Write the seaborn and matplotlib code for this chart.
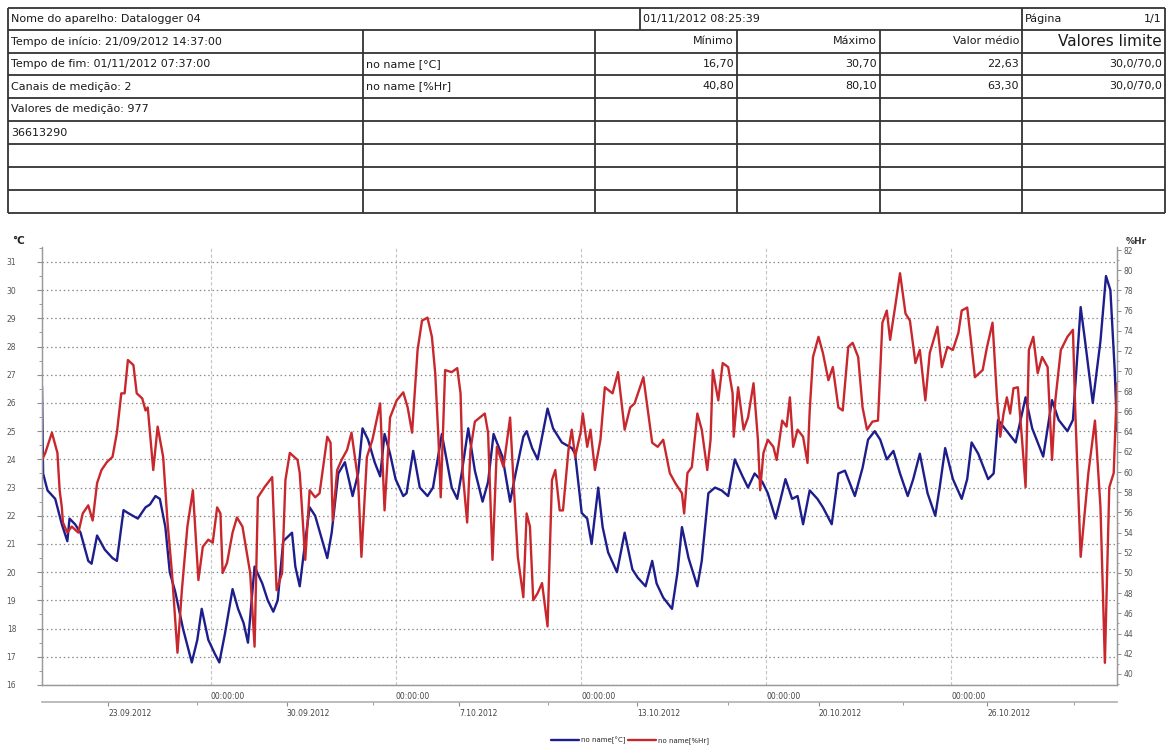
import pandas as pd
import numpy as np
import matplotlib.pyplot as plt
import seaborn as sns
from matplotlib.ticker import MultipleLocator, FixedLocator

# Datalogger series: hours after 21/09/2012 14:37 and the value read at that hour
temp_hours = [0, 1, 5, 12, 18, 23, 25, 30, 35, 42,
              45, 50, 57, 64, 68, 74, 78, 87, 94, 98,
              103, 107, 112, 116, 121, 128, 136, 141, 145, 151,
              157, 161, 166, 173, 178, 183, 187, 193, 200, 205,
              210, 214, 219, 227, 230, 234, 239, 243, 248, 259,
              263, 269, 275, 282, 287, 291, 296, 302, 307, 311,
              316, 321, 328, 331, 337, 343, 350, 355, 363, 372,
              377, 381, 387, 393, 400, 405, 410, 418, 425, 430,
              437, 440, 445, 450, 459, 464, 472, 481, 484, 490,
              495, 499, 505, 509, 514, 522, 529, 536, 541, 548,
              554, 558, 564, 572, 577, 581, 587, 595, 599, 605,
              611, 617, 623, 629, 636, 641, 647, 654, 659, 666,
              670, 675, 681, 686, 691, 697, 704, 709, 717, 723,
              729, 738, 745, 750, 756, 761, 767, 773, 779, 786,
              791, 797, 804, 811, 815, 820, 827, 835, 840, 844,
              850, 859, 864, 868, 874, 884, 893, 899, 909, 917,
              923, 931, 936, 943, 947, 954, 961, 966, 970, 974,
              976]
temp_values = [26.6, 23.5, 22.9, 22.6, 21.7, 21.1, 21.9, 21.7, 21.4, 20.4,
               20.3, 21.3, 20.8, 20.5, 20.4, 22.2, 22.1, 21.9, 22.3, 22.4,
               22.7, 22.6, 21.6, 20.0, 19.3, 18.0, 16.8, 17.6, 18.7, 17.6,
               17.1, 16.8, 17.8, 19.4, 18.7, 18.2, 17.5, 20.2, 19.6, 19.0,
               18.6, 19.0, 21.1, 21.4, 20.2, 19.5, 21.1, 22.3, 22.0, 20.5,
               21.4, 23.5, 23.9, 22.7, 23.5, 25.1, 24.7, 23.9, 23.4, 24.9,
               24.2, 23.3, 22.7, 22.8, 24.3, 23.0, 22.7, 23.0, 24.9, 23.0,
               22.6, 23.5, 25.1, 23.6, 22.5, 23.2, 24.9, 24.1, 22.5, 23.5,
               24.8, 25.0, 24.4, 24.0, 25.8, 25.1, 24.6, 24.4, 24.2, 22.1,
               21.9, 21.0, 23.0, 21.6, 20.7, 20.0, 21.4, 20.1, 19.8, 19.5,
               20.4, 19.6, 19.1, 18.7, 20.0, 21.6, 20.5, 19.5, 20.4, 22.8,
               23.0, 22.9, 22.7, 24.0, 23.4, 23.0, 23.5, 23.2, 22.8, 21.9,
               22.5, 23.3, 22.6, 22.7, 21.7, 22.9, 22.6, 22.3, 21.7, 23.5,
               23.6, 22.7, 23.7, 24.7, 25.0, 24.7, 24.0, 24.3, 23.5, 22.7,
               23.3, 24.2, 22.8, 22.0, 23.0, 24.4, 23.3, 22.6, 23.3, 24.6,
               24.2, 23.3, 23.5, 25.4, 25.1, 24.6, 26.2, 25.1, 24.1, 26.1,
               25.4, 25.0, 25.4, 29.4, 28.2, 26.0, 28.2, 30.5, 30.0, 27.1,
               25.0]

hum_hours = [0, 3, 9, 14, 16, 18, 19, 23, 27, 33,
             37, 42, 46, 50, 54, 59, 64, 68, 72, 75,
             78, 83, 86, 91, 94, 96, 101, 105, 110, 114,
             118, 123, 127, 132, 137, 142, 146, 151, 155, 159,
             162, 164, 168, 173, 177, 182, 184, 189, 193, 196,
             202, 209, 213, 218, 221, 225, 232, 234, 239, 243,
             248, 252, 259, 262, 264, 268, 272, 277, 281, 287,
             290, 295, 300, 307, 311, 316, 322, 328, 332, 336,
             341, 345, 350, 354, 357, 360, 362, 366, 372, 377,
             380, 382, 386, 389, 393, 402, 405, 409, 413, 419,
             425, 428, 432, 437, 440, 443, 446, 450, 454, 459,
             463, 466, 470, 473, 478, 481, 484, 489, 491, 495,
             498, 502, 507, 511, 518, 523, 529, 534, 538, 546,
             554, 559, 564, 570, 575, 581, 583, 586, 590, 595,
             599, 604, 607, 609, 614, 618, 623, 627, 628, 632,
             637, 641, 646, 650, 652, 655, 659, 664, 667, 672,
             676, 679, 682, 686, 691, 695, 697, 700, 705, 709,
             714, 718, 723, 727, 732, 736, 741, 745, 749, 754,
             759, 763, 767, 770, 775, 779, 784, 788, 793, 797,
             802, 806, 813, 817, 822, 827, 832, 835, 840, 843,
             847, 854, 858, 863, 867, 870, 873, 876, 879, 882,
             886, 890, 893, 896, 900, 904, 908, 913, 917, 920,
             925, 931, 936, 938, 943, 950, 956, 961, 965, 969,
             973, 976]
hum_values = [61.2, 61.9, 63.9, 61.9, 58.2, 56.5, 55.0, 54.0, 54.6, 54.0,
              55.9, 56.7, 55.2, 58.9, 60.2, 61.0, 61.5, 63.9, 67.8, 67.8,
              71.1, 70.6, 67.8, 67.3, 66.1, 66.4, 60.2, 64.5, 61.5, 55.0,
              50.0, 42.1, 48.3, 54.6, 58.2, 49.3, 52.6, 53.3, 53.0, 56.5,
              55.9, 50.0, 51.0, 54.0, 55.5, 54.6, 53.3, 50.0, 42.7, 57.5,
              58.5, 59.5, 48.3, 50.0, 59.2, 61.9, 61.2, 59.9, 51.3, 58.2,
              57.5, 57.9, 63.5, 62.9, 55.2, 60.2, 61.2, 62.2, 63.9, 59.2,
              51.6, 61.5, 63.2, 66.8, 56.2, 65.4, 67.1, 67.9, 66.4, 63.9,
              72.1, 75.0, 75.3, 73.4, 69.8, 63.2, 57.5, 70.1, 69.9, 70.3,
              67.8, 59.9, 55.0, 62.2, 65.0, 65.8, 63.9, 51.3, 62.5, 60.5,
              65.4, 59.2, 51.6, 47.6, 55.9, 54.6, 47.3, 48.0, 49.0, 44.7,
              59.2, 60.2, 56.2, 56.2, 62.2, 64.2, 61.5, 63.9, 65.8, 62.5,
              64.2, 60.2, 63.2, 68.4, 67.8, 69.9, 64.2, 66.4, 66.8, 69.4,
              62.9, 62.5, 63.2, 59.9, 58.9, 57.9, 55.9, 59.9, 60.5, 65.8,
              64.2, 60.2, 63.2, 70.1, 67.1, 70.8, 70.4, 67.8, 63.5, 68.4,
              64.2, 65.4, 68.8, 63.2, 58.2, 61.9, 63.2, 62.5, 61.2, 65.1,
              64.5, 67.4, 62.5, 64.2, 63.5, 60.9, 66.1, 71.4, 73.4, 71.8,
              69.1, 70.4, 66.4, 66.1, 72.4, 72.8, 71.4, 66.4, 64.2, 65.0,
              65.1, 74.8, 76.0, 73.1, 76.7, 79.7, 75.7, 75.0, 70.8, 72.1,
              67.1, 71.8, 74.4, 70.4, 72.4, 72.1, 73.8, 76.0, 76.3, 73.4,
              69.4, 70.1, 72.4, 74.8, 67.4, 63.5, 65.8, 67.4, 65.8, 68.3,
              68.4, 62.9, 58.5, 72.1, 73.4, 69.8, 71.4, 70.4, 61.2, 67.1,
              72.1, 73.4, 74.1, 66.4, 51.6, 59.9, 65.1, 56.5, 41.1, 58.5,
              59.9, 68.8]

# Axis ticks
log_start = pd.Timestamp('2012-09-21 14:37')
week_dates = ['2012-09-28', '2012-10-05', '2012-10-12', '2012-10-19', '2012-10-26']
date_labels = ['23.09.2012', '30.09.2012', '7.10.2012', '13.10.2012', '20.10.2012', '26.10.2012']
date_label_hours = [60, 222, 379, 540, 705, 858]
temp_ticks = list(range(16, 32))
hum_ticks = list(range(40, 83, 2))

# Report header table
header_name = 'Nome do aparelho: Datalogger 04'
header_date = '01/11/2012 08:25:39'
header_page = ['Página', '1/1']
info_lines = ['Tempo de início: 21/09/2012 14:37:00', 'Tempo de fim: 01/11/2012 07:37:00',
              'Canais de medição: 2', 'Valores de medição: 977', '36613290', '', '', '']
channel_names = ['', 'no name [°C]', 'no name [%Hr]']
stat_headers = ['Mínimo', 'Máximo', 'Valor médio', 'Valores limite']
stat_temp = ['16,70', '30,70', '22,63', '30,0/70,0']
stat_hum = ['40,80', '80,10', '63,30', '30,0/70,0']

BLUE = '#1d1d8c'
RED = '#c8282d'
GRAY = '#8c8c8c'

sns.set_style('white')
plt.rcParams['font.family'] = ['DejaVu Sans']

W, H = 1172, 747
fig = plt.figure(figsize=(W / 100, H / 100), dpi=100)

# ---- table (drawn in pixel coordinates) ----
tab = fig.add_axes([0, 0, 1, 1])
tab.set_xlim(0, W)
tab.set_ylim(H, 0)
tab.axis('off')

row_y = [8, 30, 53, 75, 98, 121, 144, 167, 190, 213]
col_x = [8, 363, 595, 737, 880, 1022, 1165]
tab.hlines(row_y, col_x[0], col_x[-1], color='#333333', lw=1.3)
tab.vlines([col_x[0], col_x[-1], 1022], row_y[0], row_y[-1], color='#333333', lw=1.3)
tab.vlines(640, row_y[0], row_y[1], color='#333333', lw=1.3)
tab.vlines(col_x[1:5], row_y[1], row_y[-1], color='#333333', lw=1.3)

mid = [(a + b) / 2 for a, b in zip(row_y[:-1], row_y[1:])]
fs = 8
tkw = dict(fontsize=fs, color='#1a1a1a', va='center')
tab.text(11, mid[0], header_name, **tkw)
tab.text(643, mid[0], header_date, **tkw)
tab.text(1025, mid[0], header_page[0], **tkw)
tab.text(1162, mid[0], header_page[1], ha='right', **tkw)
for i, line in enumerate(info_lines):
    tab.text(11, mid[i + 1], line, **tkw)
for i, name in enumerate(channel_names):
    tab.text(366, mid[i + 1], name, **tkw)
for j, (h, t, u) in enumerate(zip(stat_headers, stat_temp, stat_hum)):
    xr = col_x[j + 3] - 3
    tab.text(xr, mid[1], h, ha='right', fontsize=(11 if j == 3 else fs), color='#1a1a1a', va='center')
    tab.text(xr, mid[2], t, ha='right', **tkw)
    tab.text(xr, mid[3], u, ha='right', **tkw)

# ---- chart ----
ax = fig.add_axes([42 / W, 62 / H, 1075 / W, 438 / H])
df_t = pd.DataFrame({'hour': temp_hours, 'temp': temp_values})
df_h = pd.DataFrame({'hour': hum_hours, 'hum': hum_values})

sns.lineplot(data=df_t, x='hour', y='temp', ax=ax, color=BLUE, lw=1.7, label='no name[°C]')
ax2 = ax.twinx()
sns.lineplot(data=df_h, x='hour', y='hum', ax=ax2, color=RED, lw=1.7, label='no name[%Hr]')
for a in (ax, ax2):
    if a.get_legend() is not None:
        a.get_legend().remove()
    a.set_xlabel('')
    a.set_ylabel('')

ax.set_xlim(0, 976)
ax.set_ylim(16, 31.53)
ax2.set_ylim(38.9, 82.3)

week_hours = [(pd.Timestamp(d) - log_start) / pd.Timedelta(hours=1) for d in week_dates]
ax.set_xticks(week_hours, ['00:00:00'] * len(week_hours))
ax.xaxis.set_minor_locator(FixedLocator([h - 84 for h in week_hours] + [week_hours[-1] + 84]))
ax.tick_params(axis='x', which='major', length=4, width=0.8, color=GRAY, labelsize=5.5,
               labelcolor='#444444', pad=1)
ax.tick_params(axis='x', which='minor', length=2, width=0.6, color=GRAY)
for lbl in ax.get_xticklabels():
    lbl.set_ha('left')

ax.set_yticks(temp_ticks)
ax.yaxis.set_minor_locator(MultipleLocator(0.5))
ax.tick_params(axis='y', which='major', length=3.5, width=0.8, color=GRAY, labelsize=5.5,
               labelcolor='#555555', pad=15)
ax.tick_params(axis='y', which='minor', length=2, width=0.6, color=GRAY)

ax2.set_yticks(hum_ticks)
ax2.yaxis.set_minor_locator(MultipleLocator(1))
ax2.tick_params(axis='y', which='major', length=3, width=0.7, color=GRAY, labelsize=5.5,
                labelcolor='#555555', pad=1.5)
ax2.tick_params(axis='y', which='minor', length=1.5, width=0.6, color=GRAY)

ax.set_axisbelow(True)
ax.yaxis.grid(True, ls=(0, (1.2, 2.2)), color='#8a8a8a', lw=0.9)
ax.xaxis.grid(True, which='major', ls=(0, (3, 2)), color='#c4c4c4', lw=0.8)

for a in (ax, ax2):
    a.spines['top'].set_visible(False)
    for s in ('left', 'right', 'bottom'):
        a.spines[s].set_color('#9a9a9a')
        a.spines[s].set_linewidth(0.9)

# second row of date labels under the axis
sec = ax.secondary_xaxis(-0.039)
sec.set_xticks(date_label_hours, date_labels)
sec.xaxis.set_minor_locator(FixedLocator([(a + b) / 2 for a, b in zip(date_label_hours[:-1], date_label_hours[1:])] + [937]))
sec.tick_params(axis='x', which='major', length=3, width=0.8, color=GRAY, labelsize=5.5,
                labelcolor='#444444', pad=2)
sec.tick_params(axis='x', which='minor', length=2, width=0.6, color=GRAY)
sec.spines['bottom'].set_color('#b0b0b0')
sec.spines['bottom'].set_linewidth(1.2)
for lbl in sec.get_xticklabels():
    lbl.set_ha('left')

fig.text(12 / W, 1 - 241 / H, '°C', fontsize=7.5, fontweight='bold', va='center', color='#222222')
fig.text(1126 / W, 1 - 241 / H, '%Hr', fontsize=6.5, fontweight='bold', va='center', color='#333333')

handles = [ax.get_lines()[0], ax2.get_lines()[0]]
fig.legend(handles, ['no name[°C]', 'no name[%Hr]'], loc='center',
           bbox_to_anchor=(630 / W, 1 - 740 / H), ncol=2, frameon=False, fontsize=5,
           handlelength=4, handletextpad=0.3, columnspacing=0.4)

fig.savefig('out.png', dpi=100)
plt.close(fig)
